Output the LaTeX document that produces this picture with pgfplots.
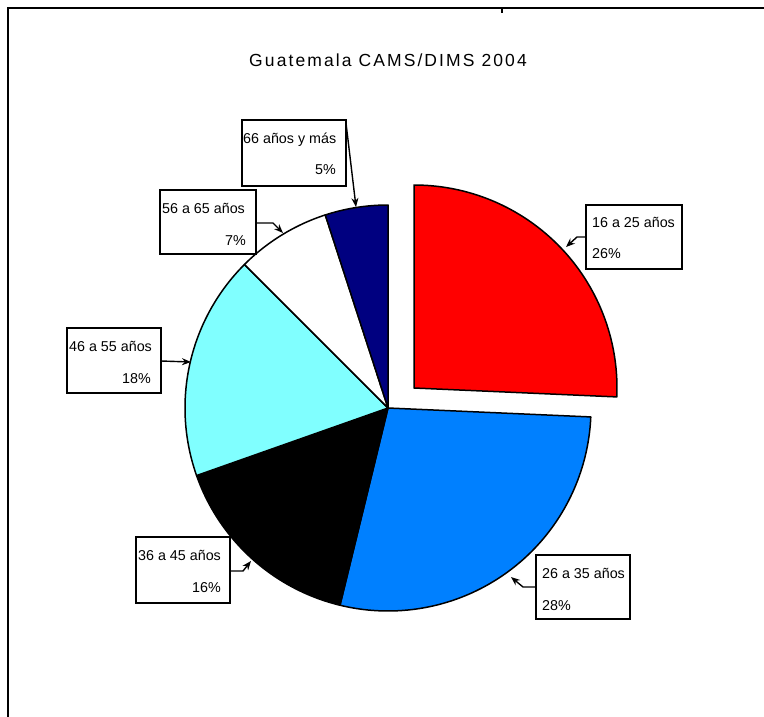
\documentclass[border=0pt]{standalone}
\usepackage{pgfplots}
\pgfplotsset{compat=1.18}
\usepackage{pgfplotstable}
\usetikzlibrary{arrows.meta}
\usepackage{fontspec}
\setmainfont{Liberation Sans}
\newfontfamily\titlefont[LetterSpace=12]{Liberation Sans}

\definecolor{pieRed}{RGB}{255,0,0}
\definecolor{pieBlue}{RGB}{0,128,255}
\definecolor{pieCyan}{RGB}{128,255,255}
\definecolor{pieNavy}{RGB}{0,0,128}

% share of each age group (per cent), clockwise from 12 o'clock
\pgfplotstableread{
slice pct
1 25.7
2 28.1
3 15.8
4 17.9
5 7.5
6 5.0
}\piedata

\begin{document}
\begin{tikzpicture}
\pgfplotstablegetelem{0}{pct}\of\piedata \pgfmathsetmacro\pA{\pgfplotsretval}
\pgfplotstablegetelem{1}{pct}\of\piedata \pgfmathsetmacro\pB{\pgfplotsretval}
\pgfplotstablegetelem{2}{pct}\of\piedata \pgfmathsetmacro\pC{\pgfplotsretval}
\pgfplotstablegetelem{3}{pct}\of\piedata \pgfmathsetmacro\pD{\pgfplotsretval}
\pgfplotstablegetelem{4}{pct}\of\piedata \pgfmathsetmacro\pE{\pgfplotsretval}
\pgfplotstablegetelem{5}{pct}\of\piedata \pgfmathsetmacro\pF{\pgfplotsretval}
\pgfmathsetmacro\aA{90}
\pgfmathsetmacro\aB{\aA-3.6*\pA}
\pgfmathsetmacro\aC{\aB-3.6*\pB}
\pgfmathsetmacro\aD{\aC-3.6*\pC}
\pgfmathsetmacro\aE{\aD-3.6*\pD}
\pgfmathsetmacro\aF{\aE-3.6*\pE}
\pgfmathsetmacro\aG{\aF-3.6*\pF}
\begin{axis}[at={(0,0)}, anchor=south west, width=764pt, height=717pt,
  scale only axis, xmin=0, xmax=764, ymin=0, ymax=717, y dir=reverse,
  hide axis, clip=false]
\pgfplotsset{every axis plot/.append style={draw=black, line width=1.5pt, line join=round, samples=90, variable=\t}}
% exploded slice
\addplot[fill=pieRed, domain=\aB:\aA] ({414+203*cos(\t)},{388-203*sin(\t)}) -- (axis cs:414,388) -- cycle;
\addplot[fill=pieBlue, domain=\aC:\aB] ({388+203*cos(\t)},{408-203*sin(\t)}) -- (axis cs:388,408) -- cycle;
\addplot[fill=black, domain=\aD:\aC] ({388+203*cos(\t)},{408-203*sin(\t)}) -- (axis cs:388,408) -- cycle;
\addplot[fill=pieCyan, domain=\aE:\aD] ({388+203*cos(\t)},{408-203*sin(\t)}) -- (axis cs:388,408) -- cycle;
\addplot[fill=white, domain=\aF:\aE] ({388+203*cos(\t)},{408-203*sin(\t)}) -- (axis cs:388,408) -- cycle;
\addplot[fill=pieNavy, domain=\aG:\aF] ({388+203*cos(\t)},{408-203*sin(\t)}) -- (axis cs:388,408) -- cycle;

% frame
\draw[line width=2pt] (axis cs:764,8) -- (axis cs:8,8) -- (axis cs:8,717);
\draw[line width=1.5pt] (axis cs:502,8) -- (axis cs:502,13);

% title
\node[font=\titlefont\fontsize{17.5}{20}\selectfont] at (axis cs:388,60) {Guatemala CAMS/DIMS 2004};

% labels
\tikzset{lbl/.style={font=\fontsize{14.3}{16}\selectfont, inner sep=0pt},
         box/.style={draw=black, line width=1.5pt, fill=white},
         arr/.style={line width=1.4pt, -{Stealth[length=9pt,width=7pt]}}}
% 66 anos y mas
\draw[box] (axis cs:242,120) rectangle (axis cs:346,186);
\node[lbl, anchor=base west] at (axis cs:243,143) {66 años y más};
\node[lbl, anchor=base east] at (axis cs:336,175) {5\%};
\draw[arr] (axis cs:346,123) -- (axis cs:356,207);
% 56 a 65
\draw[box] (axis cs:160,190) rectangle (axis cs:256,254);
\node[lbl, anchor=base west] at (axis cs:162,213) {56 a 65 años};
\node[lbl, anchor=base east] at (axis cs:246,245) {7\%};
\draw[arr] (axis cs:256,223) -- (axis cs:273,223) -- (axis cs:283,233);
% 46 a 55
\draw[box] (axis cs:67,328) rectangle (axis cs:161,393);
\node[lbl, anchor=base west] at (axis cs:69,351) {46 a 55 años};
\node[lbl, anchor=base east] at (axis cs:151,383) {18\%};
\draw[arr] (axis cs:161,361) -- (axis cs:191,362);
% 36 a 45
\draw[box] (axis cs:136,537) rectangle (axis cs:230,603);
\node[lbl, anchor=base west] at (axis cs:138,560) {36 a 45 años};
\node[lbl, anchor=base east] at (axis cs:221,592) {16\%};
\draw[arr] (axis cs:230,571) -- (axis cs:243,571) -- (axis cs:251,561);
% 26 a 35
\draw[box] (axis cs:536,555) rectangle (axis cs:630,619);
\node[lbl, anchor=base west] at (axis cs:542,578) {26 a 35 años};
\node[lbl, anchor=base west] at (axis cs:542,610) {28\%};
\draw[arr] (axis cs:536,587) -- (axis cs:523,587) -- (axis cs:511,577);
% 16 a 25
\draw[box] (axis cs:586,205) rectangle (axis cs:682,269);
\node[lbl, anchor=base west] at (axis cs:592,227) {16 a 25 años};
\node[lbl, anchor=base west] at (axis cs:592,258) {26\%};
\draw[arr] (axis cs:586,237) -- (axis cs:577,237) -- (axis cs:566,247);
\end{axis}
\pgfresetboundingbox
\path (0,0) rectangle (764pt,717pt);
\end{tikzpicture}
\end{document}
